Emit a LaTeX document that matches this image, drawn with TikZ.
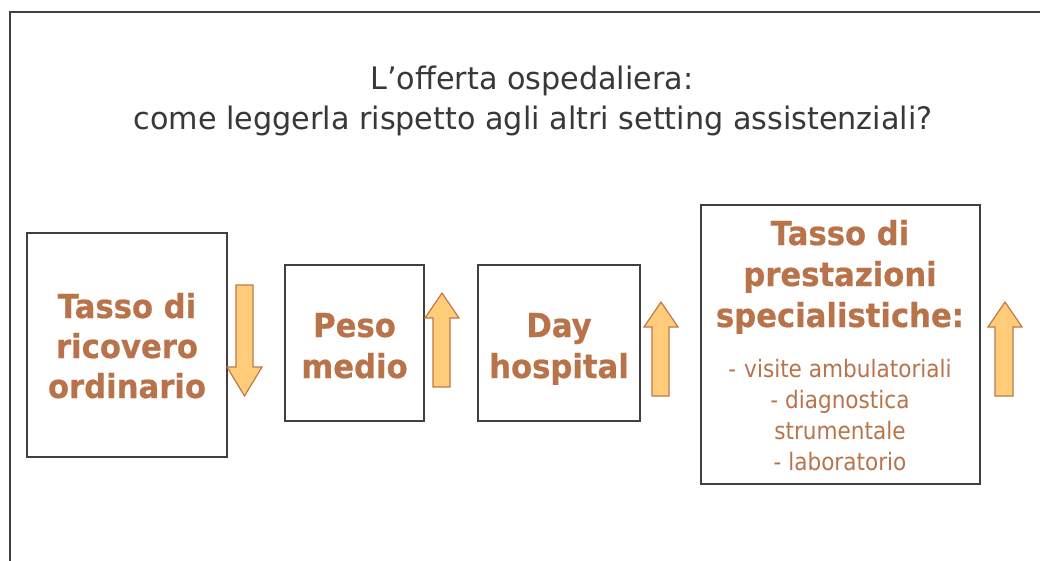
\documentclass[tikz,border=0pt]{standalone}
\usepackage{fontspec}
\setmainfont{DejaVu Sans}
\newfontfamily\titlefont[FakeStretch=0.975]{DejaVu Sans}
\newfontfamily\boldfont[FakeStretch=0.93,BoldFeatures={FakeBold=0.6}]{DejaVu Sans}
\newfontfamily\smallfont[FakeStretch=0.9]{DejaVu Sans}
\definecolor{framegray}{HTML}{404040}
\definecolor{titlegray}{HTML}{383838}
\definecolor{brown}{HTML}{B8734A}
\definecolor{arrowfill}{HTML}{FFCC7A}
\definecolor{arrowline}{HTML}{C0784A}
\begin{document}
\begin{tikzpicture}[x=1pt,y=-1pt,
  boxstyle/.style={draw=framegray,line width=2pt,fill=white},
  boldtext/.style={text=brown,align=center,font=\boldfont\bfseries\fontsize{33}{41}\selectfont,inner sep=0pt},
  smalltext/.style={text=brown,align=center,font=\smallfont\fontsize{24}{31}\selectfont,inner sep=0pt},
  blockarrow/.style={fill=arrowfill,draw=arrowline,line width=1.2pt,line join=miter}]
\useasboundingbox (0,0) rectangle (1040,561);
\fill[white] (0,0) rectangle (1040,561);
% frame
\draw[framegray,line width=1.5pt] (10,561) -- (10,12) -- (1040,12);
% title
\node[text=titlegray,font=\titlefont\fontsize{31}{40}\selectfont,anchor=base] (title1) at (532,90) {L’offerta ospedaliera:};
\node[text=titlegray,font=\titlefont\fontsize{31}{40}\selectfont,anchor=base] (title2) at (533,130) {come leggerla rispetto agli altri setting assistenziali?};
% boxes
\draw[boxstyle] (27,233) rectangle (227,457);
\draw[boxstyle] (285,265) rectangle (424,421);
\draw[boxstyle] (478,265) rectangle (640,421);
\draw[boxstyle] (701,205) rectangle (980,484);
% texts (base anchor = baseline of last line)
\node[boldtext,font=\boldfont\bfseries\fontsize{33}{40}\selectfont,anchor=base] (t1) at (127,398) {Tasso di\\ricovero\\ordinario};
\node[boldtext,anchor=base] (t2) at (354.5,378) {Peso\\medio};
\node[boldtext,anchor=base] (t3) at (559,378) {Day\\hospital};
\node[boldtext,anchor=base] (t4) at (840,327) {Tasso di\\prestazioni\\specialistiche:};
\node[smalltext,anchor=base] (t5) at (840,470) {-\hspace{8pt}visite ambulatoriali\\- diagnostica\\strumentale\\- laboratorio};
% arrows
\draw[blockarrow] (236,285) -- (253,285) -- (253,367) -- (262,367) -- (244.5,396) -- (227,367) -- (236,367) -- cycle;
\draw[blockarrow] (433,387) -- (450,387) -- (450,318) -- (459,318) -- (442,293) -- (425,318) -- (433,318) -- cycle;
\draw[blockarrow] (652,396) -- (669,396) -- (669,327) -- (678,327) -- (661,302) -- (644,327) -- (652,327) -- cycle;
\draw[blockarrow] (995,396) -- (1013,396) -- (1013,327) -- (1022,327) -- (1005,302) -- (988,327) -- (995,327) -- cycle;
\end{tikzpicture}
\end{document}
